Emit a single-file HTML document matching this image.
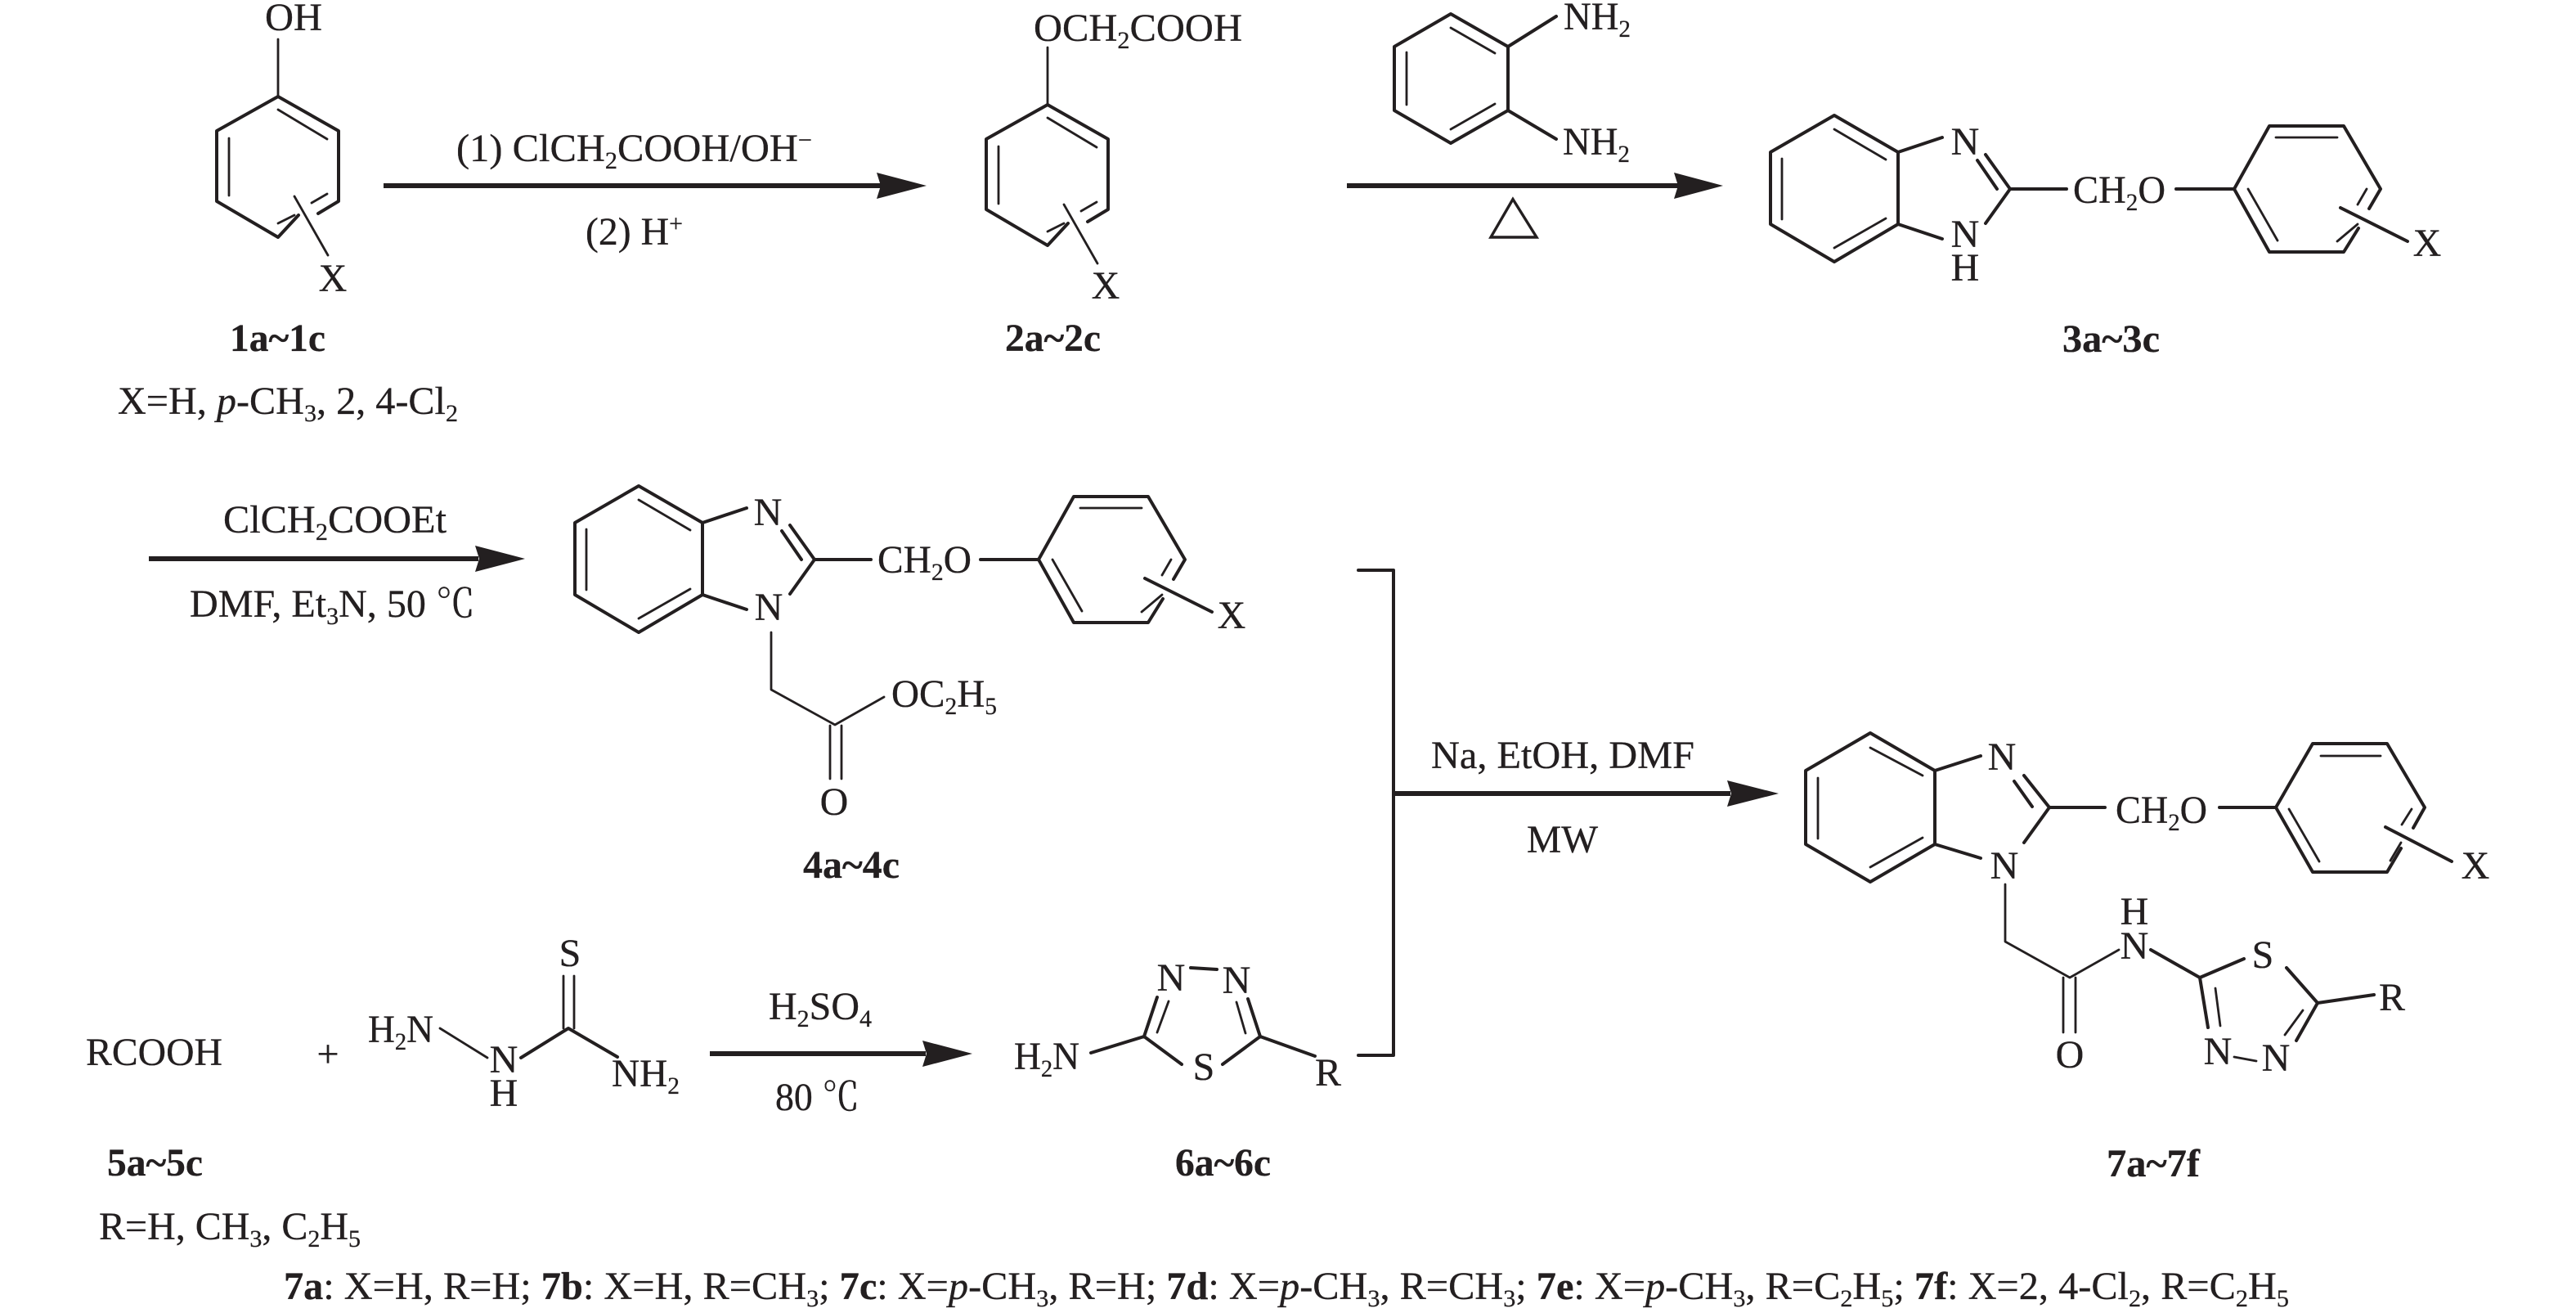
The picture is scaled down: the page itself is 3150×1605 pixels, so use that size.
<!DOCTYPE html>
<html>
<head>
<meta charset="utf-8">
<title>Synthesis scheme</title>
<style>
html,body{margin:0;padding:0;background:#fff;width:3150px;height:1605px;overflow:hidden}
svg{display:block}
text{font-family:"Liberation Serif","Noto Serif CJK SC",serif;font-size:48px;fill:#231f20;stroke:#231f20;stroke-width:.3}
.m{text-anchor:middle}
.bd{font-weight:bold}
.i{font-style:italic}
.b{stroke:#231f20;stroke-width:4;fill:none;stroke-linecap:round;stroke-linejoin:round}
.t{stroke:#231f20;stroke-width:2.8;fill:none;stroke-linecap:round;stroke-linejoin:round}
.ar{fill:#231f20}
</style>
</head>
<body>
<svg xmlns="http://www.w3.org/2000/svg" width="3150" height="1605" viewBox="0 0 3150 1605">
<defs>
<g id="ring1">
<path class="b" d="M340 118L265 160V246L340 290L365 263"/>
<path class="b" d="M340 118L414 160V246L389 261"/>
<path class="t" d="M340 134L400 170M280 169V239M340 273L360 263M381 248L400 237"/>
<path class="t" d="M360 240L401 312"/>
<path class="t" d="M340 48V118"/>
</g>
<g id="bz">
<path class="b" d="M2243 141L2165 186V274L2243 320L2321 274V186Z"/>
<path class="t" d="M2243 158L2306 195M2179 194V268M2243 303L2306 267"/>
<path class="b" d="M2321 186L2375 168M2321 274L2375 292"/>
<path class="b" d="M2428 189L2458 231L2428 273M2418 196L2442 231M2458 231H2527"/>
<path class="b" d="M2661 231H2732L2775 154H2866L2911 231L2897 255M2884 279L2866 308H2775L2732 231"/>
<path class="t" d="M2783 168H2858M2749 231L2785 294M2894 231L2883 250M2883 274L2858 295"/>
<path class="b" d="M2862 254L2944 295"/>
</g>
</defs>

<!-- compound 1 -->
<use href="#ring1"/>
<text x="359" y="37" class="m" textLength="70" lengthAdjust="spacingAndGlyphs">OH</text>
<text x="407" y="356" class="m">X</text>
<text x="281" y="429" class="bd" textLength="117" lengthAdjust="spacingAndGlyphs">1a~1c</text>
<text x="144" y="506" textLength="416" lengthAdjust="spacingAndGlyphs">X=H, <tspan class="i">p</tspan>-CH<tspan font-size="30" dy="9">3</tspan><tspan dy="-9">, 2, 4-Cl</tspan><tspan font-size="30" dy="9">2</tspan></text>

<!-- arrow 1 -->
<rect x="469" y="224" width="610" height="6" class="ar"/>
<polygon points="1072,211 1133,227 1072,243 1077,227" class="ar"/>
<text x="558" y="197" textLength="435" lengthAdjust="spacingAndGlyphs">(1) ClCH<tspan font-size="30" dy="9">2</tspan><tspan dy="-9">COOH/OH</tspan><tspan font-size="30" dy="-16">−</tspan></text>
<text x="716" y="299" textLength="119" lengthAdjust="spacingAndGlyphs">(2) H<tspan font-size="30" dy="-16">+</tspan></text>

<!-- compound 2 -->
<use href="#ring1" x="941" y="10"/>
<text x="1264" y="50" textLength="255" lengthAdjust="spacingAndGlyphs">OCH<tspan font-size="30" dy="9">2</tspan><tspan dy="-9">COOH</tspan></text>
<text x="1352" y="365" class="m">X</text>
<text x="1229" y="429" class="bd" textLength="117" lengthAdjust="spacingAndGlyphs">2a~2c</text>

<!-- diamine -->
<path class="b" d="M1774 17L1705 57V135L1774 175L1844 135V57Z"/>
<path class="t" d="M1774 34L1828 65M1720 64V128M1774 158L1828 127"/>
<path class="b" d="M1844 57L1903 20M1844 135L1903 170"/>
<text x="1912" y="36" textLength="82" lengthAdjust="spacingAndGlyphs">NH<tspan font-size="30" dy="9">2</tspan></text>
<text x="1911" y="189" textLength="82" lengthAdjust="spacingAndGlyphs">NH<tspan font-size="30" dy="9">2</tspan></text>

<!-- arrow 2 -->
<rect x="1647" y="224" width="405" height="6" class="ar"/>
<polygon points="2047,211 2107,227 2047,243 2052,227" class="ar"/>
<path d="M1850 243.5L1823 290H1879Z" fill="none" stroke="#231f20" stroke-width="3.4"/>

<!-- compound 3 -->
<use href="#bz"/>
<text x="2403" y="189" class="m">N</text>
<text x="2403" y="302" class="m">N</text>
<text x="2403" y="343" class="m">H</text>
<text x="2535" y="248" textLength="113" lengthAdjust="spacingAndGlyphs">CH<tspan font-size="30" dy="9">2</tspan><tspan dy="-9">O</tspan></text>
<text x="2968" y="313" class="m">X</text>
<text x="2522" y="430" class="bd" textLength="119" lengthAdjust="spacingAndGlyphs">3a~3c</text>

<!-- arrow 3 -->
<rect x="182" y="680" width="403" height="6" class="ar"/>
<polygon points="581,667 642,683 581,699 586,683" class="ar"/>
<text x="273" y="651" textLength="273" lengthAdjust="spacingAndGlyphs">ClCH<tspan font-size="30" dy="9">2</tspan><tspan dy="-9">COOEt</tspan></text>
<text x="232" y="754" textLength="349" lengthAdjust="spacingAndGlyphs">DMF, Et<tspan font-size="30" dy="9">3</tspan><tspan dy="-9">N, 50 ℃</tspan></text>

<!-- compound 4 -->
<use href="#bz" x="-1462" y="453"/>
<text x="939" y="642" class="m">N</text>
<text x="940" y="758" class="m">N</text>
<text x="1073" y="700" textLength="115" lengthAdjust="spacingAndGlyphs">CH<tspan font-size="30" dy="9">2</tspan><tspan dy="-9">O</tspan></text>
<text x="1506" y="768" class="m">X</text>
<path class="t" d="M943 773V843L1021 886L1081 852"/>
<path class="t" d="M1015 887V952M1029 887V952"/>
<text x="1020" y="996" class="m">O</text>
<text x="1090" y="864" textLength="129" lengthAdjust="spacingAndGlyphs">OC<tspan font-size="30" dy="9">2</tspan><tspan dy="-9">H</tspan><tspan font-size="30" dy="9">5</tspan></text>
<text x="982" y="1073" class="bd" textLength="118" lengthAdjust="spacingAndGlyphs">4a~4c</text>

<!-- bracket + arrow -->
<path class="b" d="M1661 697H1704V1290H1661"/>
<rect x="1704" y="967" width="412" height="6" class="ar"/>
<polygon points="2112,954 2175,970 2112,986 2117,970" class="ar"/>
<text x="1750" y="939" textLength="322" lengthAdjust="spacingAndGlyphs">Na, EtOH, DMF</text>
<text x="1867" y="1042" textLength="87" lengthAdjust="spacingAndGlyphs">MW</text>

<!-- compound 7 -->
<path class="b" d="M2287 896L2208 942V1032L2287 1078L2366 1032V942Z"/>
<path class="t" d="M2287 914L2351 948M2223 951V1025M2287 1060L2351 1024"/>
<path class="b" d="M2366 942L2422 924M2366 1032L2422 1049"/>
<path class="b" d="M2475 948L2506 987L2475 1030M2463 955L2485 986M2506 987H2574"/>
<path class="b" d="M2714 987H2783L2828 909H2919L2965 987L2951 1012M2936 1037L2919 1066H2828L2783 987"/>
<path class="t" d="M2838 924H2911M2799 989L2836 1053M2949 989L2937 1008M2936 1030L2923 1052"/>
<path class="b" d="M2917 1011L2998 1053"/>
<text x="2448" y="941" class="m">N</text>
<text x="2451" y="1074" class="m">N</text>
<text x="2587" y="1006" textLength="112" lengthAdjust="spacingAndGlyphs">CH<tspan font-size="30" dy="9">2</tspan><tspan dy="-9">O</tspan></text>
<text x="3027" y="1074" class="m">X</text>
<path class="t" d="M2452 1081V1151L2531 1195L2591 1161"/>
<path class="t" d="M2523 1195V1262M2538 1195V1262"/>
<text x="2531" y="1305" class="m">O</text>
<text x="2610" y="1130" class="m">H</text>
<text x="2610" y="1172" class="m">N</text>
<path class="b" d="M2630 1161L2690 1195L2744 1172M2796 1183L2834 1226L2903 1216"/>
<path class="b" d="M2690 1195L2700 1256M2834 1226L2808 1272"/>
<path class="t" d="M2709 1208L2715 1254M2816 1235L2794 1265"/>
<path class="t" d="M2732 1292L2759 1297"/>
<text x="2767" y="1183" class="m">S</text>
<text x="2925" y="1235" class="m">R</text>
<text x="2712" y="1301" class="m">N</text>
<text x="2783" y="1309" class="m">N</text>
<text x="2576" y="1438" class="bd" textLength="114" lengthAdjust="spacingAndGlyphs">7a~7f</text>

<!-- RCOOH row -->
<text x="105" y="1302" textLength="167" lengthAdjust="spacingAndGlyphs">RCOOH</text>
<text x="401" y="1304" class="m" font-size="44">+</text>
<text x="450" y="1274" textLength="80" lengthAdjust="spacingAndGlyphs">H<tspan font-size="30" dy="9">2</tspan><tspan dy="-9">N</tspan></text>
<text x="616" y="1311" class="m">N</text>
<text x="616" y="1352" class="m">H</text>
<path class="t" d="M538 1257L596 1293"/>
<path class="b" d="M637 1293L695 1257L755 1292"/>
<path class="t" d="M689 1193V1257M702 1193V1257"/>
<text x="697" y="1181" class="m">S</text>
<text x="748" y="1328" textLength="83" lengthAdjust="spacingAndGlyphs">NH<tspan font-size="30" dy="9">2</tspan></text>

<!-- arrow 4 -->
<rect x="868" y="1285" width="264" height="6" class="ar"/>
<polygon points="1128,1272 1189,1288 1128,1304 1133,1288" class="ar"/>
<text x="940" y="1246" textLength="126" lengthAdjust="spacingAndGlyphs">H<tspan font-size="30" dy="9">2</tspan><tspan dy="-9">SO</tspan><tspan font-size="30" dy="9">4</tspan></text>
<text x="948" y="1357" textLength="103" lengthAdjust="spacingAndGlyphs">80 ℃</text>

<!-- compound 6 -->
<text x="1240" y="1307" textLength="80" lengthAdjust="spacingAndGlyphs">H<tspan font-size="30" dy="9">2</tspan><tspan dy="-9">N</tspan></text>
<path class="b" d="M1334 1287L1399 1267L1445 1301M1495 1301L1541 1267L1608 1291"/>
<path class="b" d="M1399 1267L1415 1219M1541 1267L1526 1221M1456 1183L1488 1185"/>
<path class="t" d="M1415 1262L1429 1224M1523 1263L1512 1225"/>
<text x="1432" y="1211" class="m">N</text>
<text x="1512" y="1214" class="m">N</text>
<text x="1472" y="1320" class="m">S</text>
<text x="1624" y="1327" class="m">R</text>
<text x="1437" y="1437" class="bd" textLength="117" lengthAdjust="spacingAndGlyphs">6a~6c</text>

<!-- labels -->
<text x="131" y="1437" class="bd" textLength="117" lengthAdjust="spacingAndGlyphs">5a~5c</text>
<text x="121" y="1515" textLength="320" lengthAdjust="spacingAndGlyphs">R=H, CH<tspan font-size="30" dy="9">3</tspan><tspan dy="-9">, C</tspan><tspan font-size="30" dy="9">2</tspan><tspan dy="-9">H</tspan><tspan font-size="30" dy="9">5</tspan></text>
<text x="347" y="1588" textLength="2452" lengthAdjust="spacingAndGlyphs"><tspan class="bd">7a</tspan>: X=H, R=H; <tspan class="bd">7b</tspan>: X=H, R=CH<tspan font-size="30" dy="9">3</tspan><tspan dy="-9">; </tspan><tspan class="bd">7c</tspan>: X=<tspan class="i">p</tspan>-CH<tspan font-size="30" dy="9">3</tspan><tspan dy="-9">, R=H; </tspan><tspan class="bd">7d</tspan>: X=<tspan class="i">p</tspan>-CH<tspan font-size="30" dy="9">3</tspan><tspan dy="-9">, R=CH</tspan><tspan font-size="30" dy="9">3</tspan><tspan dy="-9">; </tspan><tspan class="bd">7e</tspan>: X=<tspan class="i">p</tspan>-CH<tspan font-size="30" dy="9">3</tspan><tspan dy="-9">, R=C</tspan><tspan font-size="30" dy="9">2</tspan><tspan dy="-9">H</tspan><tspan font-size="30" dy="9">5</tspan><tspan dy="-9">; </tspan><tspan class="bd">7f</tspan>: X=2, 4-Cl<tspan font-size="30" dy="9">2</tspan><tspan dy="-9">, R=C</tspan><tspan font-size="30" dy="9">2</tspan><tspan dy="-9">H</tspan><tspan font-size="30" dy="9">5</tspan></text>
</svg>
</body>
</html>
